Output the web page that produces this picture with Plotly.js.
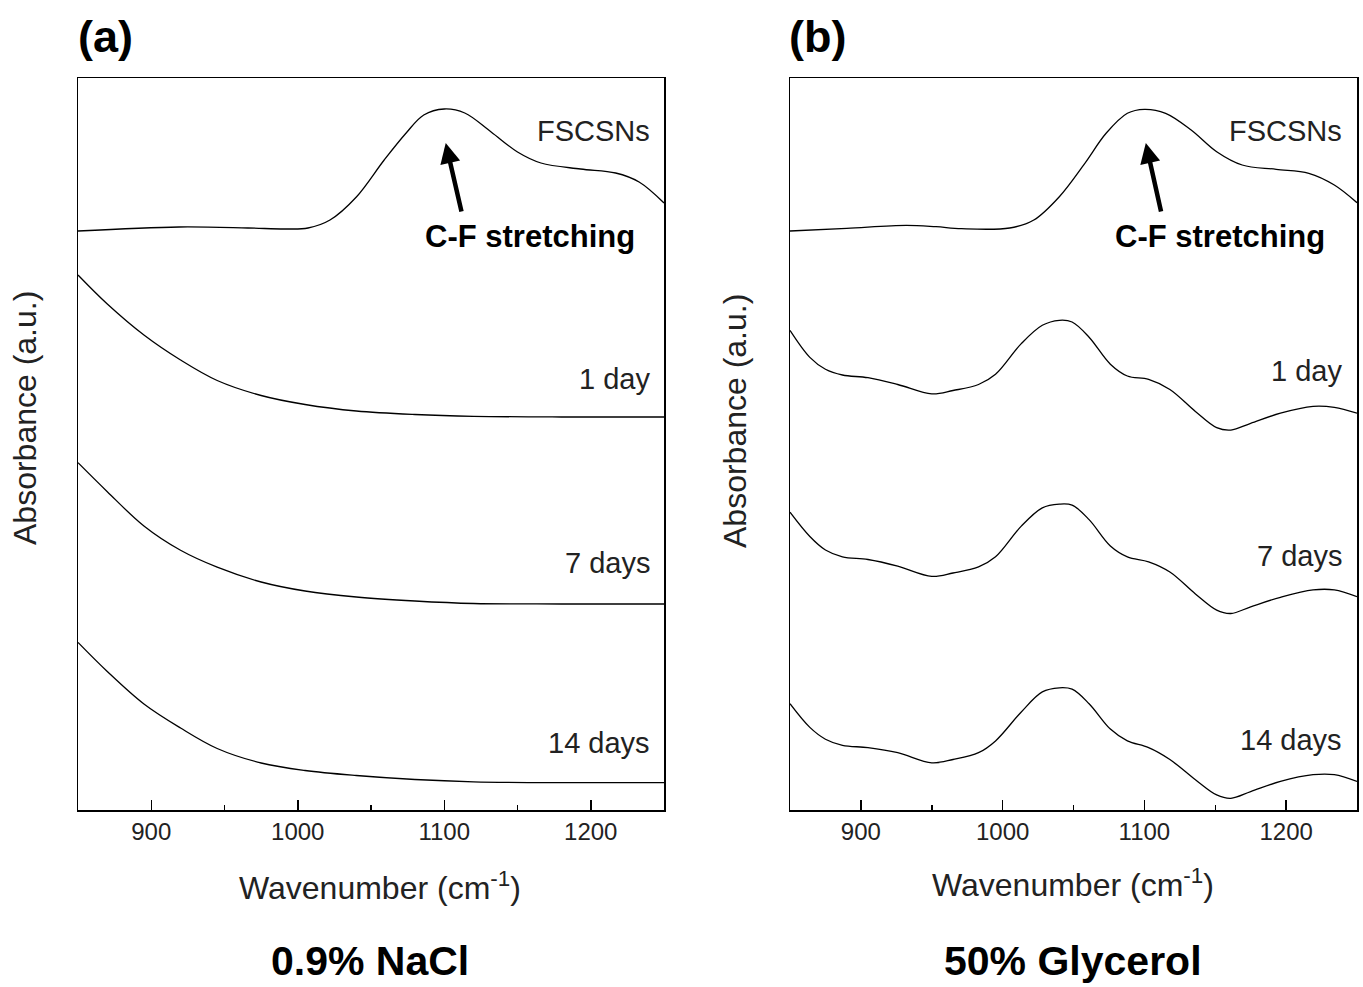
<!DOCTYPE html>
<html>
<head>
<meta charset="utf-8">
<script src="https://cdn.plot.ly/plotly-3.0.1.min.js"></script>
<style>html,body{margin:0;padding:0;background:#fff;}#chart{width:1363px;height:987px;}</style>
</head>
<body>
<div id="chart"></div>
<script>
// ---------- Data (absorbance, arbitrary units, vertically offset) ----------
// Panel (a): 0.9% NaCl
const wnA_fscsns = [850, 919, 966, 992, 1007, 1022, 1040, 1059, 1074, 1086, 1100, 1114, 1132, 1150, 1166, 1193, 1217, 1233, 1250];
const absA_fscsns = [5.79, 5.83, 5.82, 5.81, 5.82, 5.90, 6.13, 6.50, 6.77, 6.95, 7.01, 6.97, 6.78, 6.58, 6.47, 6.41, 6.37, 6.28, 6.07];
const wnA = [850, 870, 895, 920, 945, 975, 1005, 1040, 1080, 1120, 1180, 1250];
const absA_1day  = [5.35, 5.06, 4.75, 4.50, 4.295, 4.145, 4.055, 3.99, 3.955, 3.937, 3.93, 3.93];
const absA_7days = [3.473, 3.183, 2.84, 2.597, 2.428, 2.28, 2.19, 2.13, 2.09, 2.065, 2.06, 2.06];
const absA_14days = [1.676, 1.385, 1.06, 0.82, 0.615, 0.47, 0.395, 0.345, 0.305, 0.282, 0.273, 0.273];

// Panel (b): 50% Glycerol
const wnB_fscsns = [850, 890, 932, 953, 971, 1005, 1022, 1040, 1058, 1073, 1088, 1100, 1115, 1133, 1151, 1169, 1193, 1216, 1234, 1250];
const absB_fscsns = [5.79, 5.817, 5.847, 5.833, 5.813, 5.82, 5.90, 6.133, 6.467, 6.767, 6.967, 7.007, 6.967, 6.80, 6.583, 6.45, 6.407, 6.367, 6.25, 6.073];
const wnB = [850, 864, 875, 887, 905, 926, 950, 965, 983, 995, 1013, 1028, 1040, 1049, 1061, 1076, 1088, 1103, 1118, 1136, 1151, 1161, 1175, 1196, 1219, 1234, 1250];
const absB_1day = [4.796, 4.526, 4.407, 4.35, 4.323, 4.255, 4.161, 4.195, 4.255, 4.357, 4.661, 4.847, 4.897, 4.88, 4.728, 4.458, 4.34, 4.306, 4.205, 3.985, 3.823, 3.799, 3.867, 3.968, 4.036, 4.026, 3.968];
const absB_7days = [2.978, 2.735, 2.60, 2.532, 2.505, 2.438, 2.336, 2.37, 2.431, 2.532, 2.836, 3.022, 3.059, 3.049, 2.904, 2.641, 2.532, 2.482, 2.38, 2.161, 1.999, 1.965, 2.032, 2.127, 2.201, 2.201, 2.134];
const absB_14days = [1.063, 0.826, 0.708, 0.647, 0.624, 0.573, 0.472, 0.505, 0.573, 0.691, 0.978, 1.181, 1.222, 1.208, 1.063, 0.809, 0.691, 0.624, 0.505, 0.303, 0.151, 0.117, 0.184, 0.286, 0.353, 0.353, 0.286];

const seriesLabels = ["FSCSNs", "1 day", "7 days", "14 days"];
const labelYA = [6.79, 4.31, 2.47, 0.67];
const labelYB = [6.79, 4.39, 2.54, 0.70];
const panelTags = ["(a)", "(b)"];
const panelNames = ["0.9% NaCl", "50% Glycerol"];
const xTitle = "Wavenumber (cm<sup>-1</sup>)";
const yTitle = "Absorbance (a.u.)";
const bandLabel = "C-F stretching";

// ---------- Build ----------
const W = 1363, H = 987;
const FONT = "Liberation Sans, Arial, sans-serif";
const lineStyle = {color: "#000", width: 1.3, shape: "spline", smoothing: 1.0};

function tr(x, y, xa, ya) {
  return {x: x, y: y, xaxis: xa, yaxis: ya, mode: "lines", line: lineStyle, hoverinfo: "skip", showlegend: false};
}
const data = [
  tr(wnA_fscsns, absA_fscsns, "x", "y"),
  tr(wnA, absA_1day, "x", "y"),
  tr(wnA, absA_7days, "x", "y"),
  tr(wnA, absA_14days, "x", "y"),
  tr(wnB_fscsns, absB_fscsns, "x2", "y2"),
  tr(wnB, absB_1day, "x2", "y2"),
  tr(wnB, absB_7days, "x2", "y2"),
  tr(wnB, absB_14days, "x2", "y2")
];

const yBot = (H - 810) / H, yTop = (H - 78) / H;
function xax(domain, anchor) {
  return {
    domain: domain, anchor: anchor, range: [850, 1250], tick0: 900, dtick: 100,
    ticks: "inside", ticklen: 10, tickwidth: 1.5, tickcolor: "#000",
    minor: {ticks: "inside", ticklen: 5, tickwidth: 1.5, tickcolor: "#000", dtick: 50, tick0: 850},
    showline: true, mirror: true, linecolor: "#000", linewidth: 1.5,
    showgrid: false, zeroline: false,
    tickfont: {family: FONT, size: 24, color: "#222"}
  };
}
function yax(anchor) {
  return {
    domain: [yBot, yTop], anchor: anchor, range: [0, 7.32],
    showticklabels: false, ticks: "", showline: true, mirror: true,
    linecolor: "#000", linewidth: 1.5, showgrid: false, zeroline: false
  };
}

const ann = [];
const px = v => v / W, py = v => 1 - v / H;
function paperText(text, x, y, size, color, angle) {
  const a = {text: text, xref: "paper", yref: "paper", x: px(x), y: py(y), xanchor: "center", yanchor: "middle",
    showarrow: false, font: {family: FONT, size: size, color: color}};
  if (angle) a.textangle = angle;
  ann.push(a);
}
// panel tags
paperText("<b>" + panelTags[0] + "</b>", 105, 36, 45, "#000");
paperText("<b>" + panelTags[1] + "</b>", 818, 36, 45, "#000");
// bottom names
paperText("<b>" + panelNames[0] + "</b>", 370, 961, 41, "#000");
paperText("<b>" + panelNames[1] + "</b>", 1073, 961, 41, "#000");
// axis titles
paperText(xTitle, 380, 886, 32, "#222");
paperText(xTitle, 1073, 883, 32, "#222");
paperText(yTitle, 25, 418, 32, "#222", -90);
paperText(yTitle, 735, 421, 32, "#222", -90);
// series labels
for (let i = 0; i < 4; i++) {
  ann.push({text: seriesLabels[i], xref: "x", yref: "y", x: 1242, y: labelYA[i], xanchor: "right", yanchor: "middle", showarrow: false, font: {family: FONT, size: 29, color: "#222"}});
  ann.push({text: seriesLabels[i], xref: "x2", yref: "y2", x: 1241, y: labelYB[i], xanchor: "right", yanchor: "middle", showarrow: false, font: {family: FONT, size: 29, color: "#222"}});
}
// arrows + band label
[["x", "y", 1158.5], ["x2", "y2", 1153]].forEach(([xa, ya, lx]) => {
  ann.push({x: 1101, y: 6.67, xref: xa, yref: ya, ax: 1112, ay: 5.97, axref: xa, ayref: ya,
    showarrow: true, arrowhead: 2, arrowsize: 0.9, arrowwidth: 4.5, arrowcolor: "#000", text: ""});
  ann.push({text: "<b>" + bandLabel + "</b>", xref: xa, yref: ya, x: lx, y: 5.73, xanchor: "center", yanchor: "middle", showarrow: false, font: {family: FONT, size: 31, color: "#000"}});
});

const layout = {
  width: W, height: H, margin: {l: 0, r: 0, t: 0, b: 0},
  paper_bgcolor: "#fff", plot_bgcolor: "#fff", showlegend: false,
  xaxis: xax([78 / W, 664 / W], "y"),
  yaxis: yax("x"),
  xaxis2: xax([790 / W, 1357 / W], "y2"),
  yaxis2: yax("x2"),
  annotations: ann
};
Plotly.newPlot("chart", data, layout, {displayModeBar: false, staticPlot: true});
</script>
</body>
</html>
